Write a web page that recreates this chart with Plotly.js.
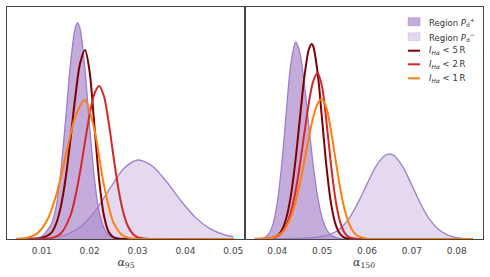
<!DOCTYPE html>
<html><head><meta charset="utf-8">
<script src="https://cdn.plot.ly/plotly-3.0.1.min.js"></script>
<style>html,body{margin:0;padding:0;background:#fff;}#chart{width:490px;height:277px;}</style>
</head><body><div id="chart"></div>
<script>
// ---- Left panel (alpha_95) ----
const a95_Pplus_x = [0.0048,0.008,0.010,0.012,0.013,0.014,0.015,0.016,0.017,0.0175,0.018,0.019,0.020,0.021,0.022,0.023,0.024,0.026,0.028,0.030,0.050];
const a95_Pplus_y = [0,0.5,2.5,15,31.8,67.8,119.6,174.6,211,216,210.5,171.2,113.2,60.9,26.6,11,4,1,0.2,0,0];
const a95_Pminus_x = [0.0048,0.0102,0.0142,0.0182,0.0212,0.0242,0.0272,0.0301,0.0332,0.0362,0.0392,0.0422,0.0452,0.0482,0.050];
const a95_Pminus_y = [0.05,0.5,3.0,12.6,28.3,50.3,70.8,79,72.5,56.5,37.5,21.1,10.1,4.1,2.2];
const a95_I5_x = [0.0048,0.008,0.010,0.012,0.013,0.014,0.015,0.016,0.017,0.018,0.01905,0.020,0.021,0.022,0.023,0.024,0.025,0.026,0.028,0.050];
const a95_I5_y = [0,0.3,1,6.1,15.1,32.4,60.8,99.4,141.4,175.2,189,167.5,113.5,58.8,23.3,7.0,1.6,0.3,0,0];
const a95_I2_x = [0.0048,0.010,0.012,0.014,0.016,0.017,0.018,0.019,0.020,0.021,0.022,0.023,0.024,0.025,0.026,0.027,0.028,0.029,0.030,0.032,0.034,0.050];
const a95_I2_y = [0,0.3,0.84,5.5,23.5,41.7,66.6,95.8,124.3,145.2,153,142.8,116.1,82.2,50.7,27.2,12.7,5.2,1.8,0.2,0,0];
const a95_I1_x = [0.0048,0.007,0.009,0.011,0.013,0.015,0.017,0.019,0.021,0.023,0.025,0.027,0.029,0.031,0.050];
const a95_I1_y = [0.24,1.3,5.4,17.5,43.3,82.8,122,139,109.5,53.7,16.4,3.1,0.4,0,0];

// ---- Right panel (alpha_150) ----
const a150_Pplus_x = [0.035,0.037,0.038,0.039,0.040,0.041,0.042,0.043,0.0441,0.045,0.046,0.047,0.048,0.049,0.050,0.051,0.052,0.054,0.056,0.0835];
const a150_Pplus_y = [0.2,1.2,4.7,14.4,36.3,75,126.4,174.4,197,187,156.2,114.8,74.1,42.1,21,9.3,3.6,0.4,0,0];
const a150_Pminus_x = [0.035,0.040,0.045,0.048,0.050,0.052,0.054,0.056,0.058,0.060,0.062,0.064,0.065,0.066,0.068,0.070,0.072,0.074,0.076,0.078,0.080,0.082,0.0835];
const a150_Pminus_y = [0.1,0.3,0.8,1.5,2.5,5,10.3,20.6,36.1,54.9,72.6,83.5,85,83.5,72.2,53.9,34.8,19.4,9.4,3.9,1.4,0.4,0.2];
const a150_I5_x = [0.035,0.038,0.040,0.041,0.042,0.043,0.044,0.045,0.046,0.047,0.04767,0.048,0.049,0.050,0.051,0.052,0.053,0.054,0.055,0.057,0.059,0.0835];
const a150_I5_y = [0,0.3,3.2,8.8,20.8,42.7,76.4,118.8,160.6,189,195,193,166,118.8,70.8,35.2,14.6,5,1.4,0.1,0,0];
const a150_I2_x = [0.035,0.037,0.039,0.040,0.041,0.042,0.043,0.044,0.045,0.046,0.047,0.048,0.049,0.050,0.051,0.052,0.053,0.054,0.055,0.056,0.058,0.060,0.0835];
const a150_I2_y = [0,0.1,1,2.6,6.2,13.4,26.1,46,73,104.6,135.2,157.7,166,151.8,115.7,73.4,38.8,17.1,6.3,1.9,0.1,0,0];
const a150_I1_x = [0.035,0.037,0.039,0.041,0.042,0.043,0.044,0.045,0.046,0.047,0.048,0.049,0.0499,0.051,0.052,0.053,0.054,0.055,0.056,0.057,0.058,0.060,0.062,0.0835];
const a150_I1_y = [0.3,0.6,1.3,6.3,12.1,21.6,35.7,54.6,77,100.7,121.5,135.6,140,130.3,107.7,79.1,51.5,29.8,15.3,7,2.8,0.3,0,0];

const xTicks95 = [0.01,0.02,0.03,0.04,0.05];
const xTickText95 = ['0.01','0.02','0.03','0.04','0.05'];
const xTicks150 = [0.04,0.05,0.06,0.07,0.08];
const xTickText150 = ['0.04','0.05','0.06','0.07','0.08'];

const legendNames = [
  'Region <i>P</i><sub>d</sub><sup>+</sup>',
  'Region <i>P</i><sub>d</sub><sup>\u2212</sup>',
  '<i>I</i><sub><i>H\u03b1</i></sub> &lt; 5\u2009R',
  '<i>I</i><sub><i>H\u03b1</i></sub> &lt; 2\u2009R',
  '<i>I</i><sub><i>H\u03b1</i></sub> &lt; 1\u2009R'
];

const purpleLine = '#9d7fcc';
const fillDark = 'rgba(148,103,189,0.55)';
const fillLight = 'rgba(148,103,189,0.25)';
const cI5 = '#800000', cI2 = '#d62728', cI1 = '#ff7f0e';

function mk(x, y, xa, ya, name, opts) {
  return Object.assign({type:'scatter', mode:'lines', x:x, y:y, xaxis:xa, yaxis:ya,
    name:name, showlegend:false, hoverinfo:'skip'}, opts);
}
function panel(xa, ya, d) {
  return [
    mk(d[0], d[1], xa, ya, legendNames[0], {fill:'tozeroy', fillcolor:fillDark, line:{color:purpleLine, width:1.3, shape:'spline', smoothing:0.8}}),
    mk(d[2], d[3], xa, ya, legendNames[1], {fill:'tozeroy', fillcolor:fillLight, line:{color:purpleLine, width:1.3, shape:'spline', smoothing:0.8}}),
    mk(d[4], d[5], xa, ya, legendNames[2], {line:{color:cI5, width:2, shape:'spline', smoothing:0.8}}),
    mk(d[6], d[7], xa, ya, legendNames[3], {line:{color:cI2, width:2, shape:'spline', smoothing:0.8}}),
    mk(d[8], d[9], xa, ya, legendNames[4], {line:{color:cI1, width:2, shape:'spline', smoothing:0.8}})
  ];
}
const traces = [].concat(
  panel('x','y',[a95_Pplus_x,a95_Pplus_y,a95_Pminus_x,a95_Pminus_y,a95_I5_x,a95_I5_y,a95_I2_x,a95_I2_y,a95_I1_x,a95_I1_y]),
  panel('x2','y2',[a150_Pplus_x,a150_Pplus_y,a150_Pminus_x,a150_Pminus_y,a150_I5_x,a150_I5_y,a150_I2_x,a150_I2_y,a150_I1_x,a150_I1_y])
);

// compact legend (Plotly's built-in legend rows are taller than the reference's)
const legRowsY = [0.9366, 0.872, 0.8116, 0.753, 0.6927];
const legSymX0 = 0.8424, legSymX1 = 0.8676, legTextX = 0.8817, boxHalf = 0.0172;
const legStyles = [
  {kind:'box', fill:fillDark, line:'rgba(148,103,189,0.45)'},
  {kind:'box', fill:fillLight, line:'rgba(148,103,189,0.2)'},
  {kind:'line', color:cI5},
  {kind:'line', color:cI2},
  {kind:'line', color:cI1}
];
const shapes = [], annotations = [];
legStyles.forEach((s, i) => {
  const yc = legRowsY[i];
  if (s.kind === 'box') {
    shapes.push({type:'rect', xref:'paper', yref:'paper', x0:legSymX0, x1:legSymX1, y0:yc-boxHalf, y1:yc+boxHalf,
      fillcolor:s.fill, line:{color:s.line, width:0.8}});
  } else {
    shapes.push({type:'line', xref:'paper', yref:'paper', x0:legSymX0, x1:legSymX1, y0:yc, y1:yc,
      line:{color:s.color, width:2}});
  }
  annotations.push({xref:'paper', yref:'paper', x:legTextX, y:yc, xanchor:'left', yanchor:'middle',
    text:legendNames[i], showarrow:false, font:{family:'DejaVu Sans, sans-serif', size:8.5, color:'#333'}});
});

const axFont = {family:'DejaVu Sans, sans-serif', size:9, color:'#444'};
const frame = {showline:true, mirror:true, linecolor:'#444', linewidth:1, showgrid:false, zeroline:false};
const layout = {
  width:490, height:277,
  margin:{l:7, r:7, t:7, b:38},
  paper_bgcolor:'#fff', plot_bgcolor:'#fff',
  showlegend:false,
  shapes:shapes, annotations:annotations,
  xaxis: Object.assign({domain:[0,0.5], range:[0.00276,0.05244], tickvals:xTicks95, ticktext:xTickText95, ticks:'', ticklabelstandoff:3, tickfont:axFont,
    title:{text:'<i>\u03b1</i><sub>95</sub>', font:{family:'DejaVu Serif, serif', size:11, color:'#333'}, standoff:2}}, frame),
  yaxis: Object.assign({range:[0,232], showticklabels:false, ticks:''}, frame),
  xaxis2: Object.assign({domain:[0.5,1], range:[0.0328,0.08587], tickvals:xTicks150, ticktext:xTickText150, ticks:'', ticklabelstandoff:3, tickfont:axFont, anchor:'y2',
    title:{text:'<i>\u03b1</i><sub>150</sub>', font:{family:'DejaVu Serif, serif', size:11, color:'#333'}, standoff:2}}, frame),
  yaxis2: Object.assign({range:[0,232], showticklabels:false, ticks:'', anchor:'x2'}, frame)
};
Plotly.newPlot('chart', traces, layout, {displayModeBar:false, staticPlot:true});
</script>
</body></html>
